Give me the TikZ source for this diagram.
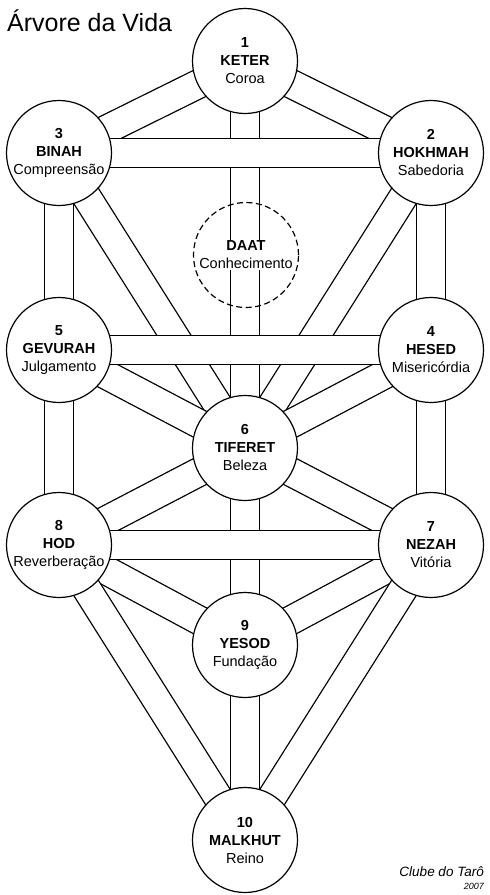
\documentclass[tikz,border=0pt]{standalone}
\usepackage{fontspec}
\setmainfont{Liberation Sans}
\usetikzlibrary{backgrounds}
\tikzset{
	sefira/.style={circle, draw, fill=white, line width=1.2pt, minimum size=105pt,
		inner sep=0pt, align=center, font=\fontsize{14.5}{18}\selectfont},
	hidden sefira/.style={sefira, fill=none, dash pattern=on 6pt off 3.5pt},
	channel/.style={line width=1.3pt, double=white, double distance=27.5pt},
}

\begin{document}
\begin{tikzpicture}[x=1pt, y=-1pt]
	\useasboundingbox (0,0) rectangle (490,895);
	
	% Sefirot
	\node[sefira] (keter) at (245,61) {\textbf{1}\\\textbf{KETER}\\Coroa};
	\node[sefira] (binah) at (59,153) {\textbf{3}\\\textbf{BINAH}\\Compreensão};
	\node[sefira] (hokhmah) at (431,153) {\textbf{2}\\\textbf{HOKHMAH}\\Sabedoria};
	\node[hidden sefira] (daat) at (246,255) {};
	\node[fill=white, inner sep=1pt, align=center, font=\fontsize{14.5}{18}\selectfont]
		(daattext) at (daat) {\textbf{DAAT}\\Conhecimento};
	\node[sefira] (gevurah) at (59,350) {\textbf{5}\\\textbf{GEVURAH}\\Julgamento};
	\node[sefira] (hesed) at (431,350) {\textbf{4}\\\textbf{HESED}\\Misericórdia};
	\node[sefira] (tiferet) at (245,448) {\textbf{6}\\\textbf{TIFERET}\\Beleza};
	\node[sefira] (hod) at (59,545) {\textbf{8}\\\textbf{HOD}\\Reverberação};
	\node[sefira] (nezah) at (431,545) {\textbf{7}\\\textbf{NEZAH}\\Vitória};
	\node[sefira] (yesod) at (245,645) {\textbf{9}\\\textbf{YESOD}\\Fundação};
	\node[sefira] (malkhut) at (245,840) {\textbf{10}\\\textbf{MALKHUT}\\Reino};
	
	% Paths
	\begin{scope}[on background layer]
		\foreach \a/\b in {keter/binah, keter/hokhmah, keter/tiferet, binah/gevurah,
			binah/tiferet, hokhmah/hesed, hokhmah/tiferet, gevurah/tiferet, gevurah/hod,
			hesed/tiferet, hesed/nezah, tiferet/hod, tiferet/nezah, tiferet/yesod,
			hod/yesod, hod/malkhut, nezah/yesod, nezah/malkhut, yesod/malkhut}
			\draw[channel] (\a.center) -- (\b.center);
		% horizontal paths on top
		\foreach \a/\b in {binah/hokhmah, gevurah/hesed, hod/nezah}
			\draw[channel] (\a.center) -- (\b.center);
	\end{scope}
	
	% Title and credit
	\node[anchor=west, inner sep=0pt, font=\fontsize{25}{28}\selectfont] (title) at (7,21) {Árvore da Vida};
	\node[anchor=east, inner sep=0pt, font=\itshape\fontsize{13.5}{15}\selectfont] (credit) at (484,872) {Clube do Tarô};
	\node[anchor=east, inner sep=0pt, font=\itshape\fontsize{9}{10}\selectfont] (year) at (484,886) {2007};
\end{tikzpicture}
\end{document}
